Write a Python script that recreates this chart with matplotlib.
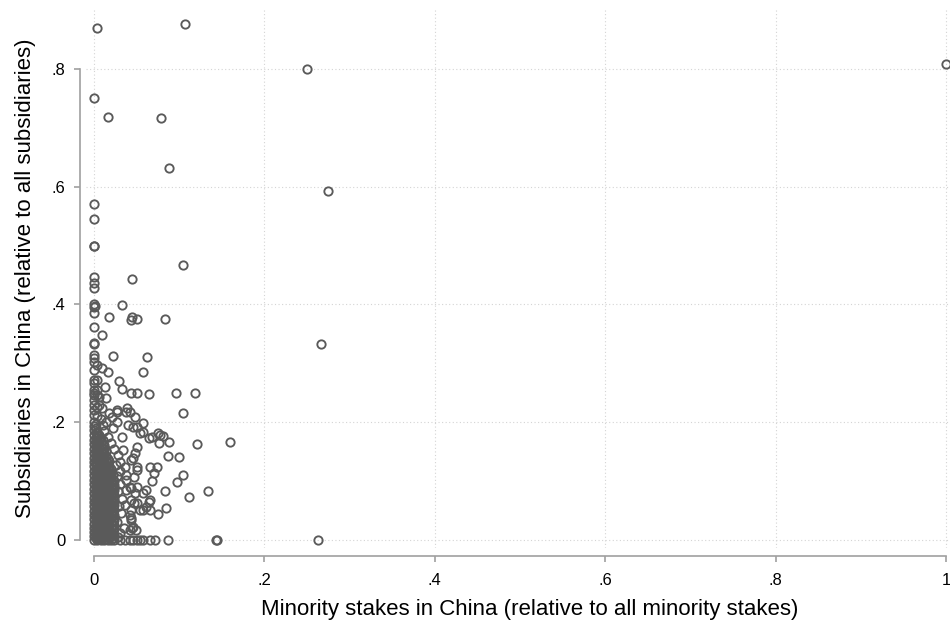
import matplotlib
matplotlib.use("Agg")
import matplotlib.pyplot as plt

plt.rcParams['font.family'] = ['Liberation Sans', 'DejaVu Sans']

# firm-level shares: minority stakes in China vs subsidiaries in China
# scattered observations
stake_x = [1.0, .25, .2746, .266, .263, .0035, .107, 0, .0164, .0786, .088, 0, 0, 0, .0005,
           .1045, .0446, 0, 0, 0, 0, .001, 0, .0325, .0176, .045, .051, .043, .0833, 0, 0,
           .0098, 0, 0, 0, 0, 0, .004, .0227, .0626, 0, .0098, .0164, .058, 0, 0, .004,
           .029, .0125, .033, 0, .004, 0, .004, 0, .043, .05, .0645, .096, .1185, .006,
           .0137, 0, 0, .006, 0, .0098, 0, .004, .027, .039, .0176, .0266, .038, .042, .104,
           .048, .021, .027, .058, .046, .040, .05, .054, .058, .068, .0755, .081, .0775,
           .088, .0767, .065, .1205, .160, .087, .1, .05, .048, .046, .0325, .0344, .0305,
           .0364, .0657, .0745, .0708, .105, .097, .0677, .134, .0833, .061, .111, .064,
           .0657, .061, .0657, .058, .0845, .0755, .048, .044, .044, .05, .054, .044, .046,
           .042, .045, .044, .042, .042, .038, .051, .057, .047, .043, .051, .05, .047, .043,
           .049,
           .031, .036, .042, .046, .05, .054, .058, .0657, .0716, .087, .143, .1445,
           .028, .03, .027, .032, .029, .033, .028, .031, .027, .03, .026, .028, .024, .02,
           .016, .012, .035, .036, .038, .037, .022, .014, .008, .004, .01]
subs_y = [.808, .8, .593, .333, 0, .87, .876, .751, .718, .717, .632, .571, .545, .5, .4995,
          .467, .443, .447, .437, .428, .4, .398, .396, .399, .379, .379, .375, .374, .375, .385, .362,
          .348, .334, .333, .314, .309, .303, .297, .3125, .311, .289, .2916, .286, .286, .272, .267, .272,
          .27, .26, .257, .255, .255, .246, .246, .249, .249, .249, .248, .249, .249, .2435,
          .241, .238, .229, .229, .221, .224, .212, .226, .218, .224, .215, .221, .218, .218, .215,
          .209, .209, .201, .199, .192, .195, .192, .181, .184, .175, .181, .177, .178,
          .166, .165, .173, .1625, .166, .1427, .1415, .158, .147, .139, .1755, .153, .133,
          .1245, .1245, .1245, .113, .110, .099, .1, .083, .0837, .085, .0725, .065,
          .068, .0566, .051, .051, .055, .044, .079, .088, .068, .062, .051, .037, .0226,
          .017, .02, .034, .042, .0905, .102, .0905, .079, .1075, .136, .1245, .119, .0623, .051,
          .017,
          0, 0, 0, 0, 0, 0, 0, 0, 0, 0, 0, 0,
          .005, .012, .03, .045, .058, .07, .083, .095, .108, .118, .128, .145, .155, .165,
          .175, .185, .02, .06, .085, .11, .19, .2, .205, .21, .195]

# dense core of small firms near the origin, one list per stake share
core_x = [0, .002, .004, .006, .008, .010, .012, .014, .016, .018, .020, .022, .024]
core_y = [
    [0, .006, .013, .021, .028, .035, .043, .05, .058, .065, .072, .08, .087, .095, .102, .11,
     .118, .125, .133, .14, .148, .155, .163, .17, .178, .186, .193, .2],
    [.003, .009, .017, .024, .032, .039, .047, .054, .061, .069, .076, .084, .091, .098, .106,
     .114, .121, .129, .137, .144, .151, .159, .167, .174, .182, .19, .197],
    [0, .004, .011, .019, .026, .033, .041, .048, .056, .063, .071, .078, .086, .093, .1, .108,
     .116, .123, .131, .138, .146, .154, .161, .168, .176, .183],
    [.002, .008, .015, .023, .03, .037, .045, .052, .059, .067, .075, .082, .089, .097, .104,
     .112, .119, .127, .134, .142, .15, .157, .165, .172, .179],
    [0, .007, .015, .022, .03, .037, .045, .052, .06, .067, .074, .082, .09, .097, .105, .112,
     .12, .127, .135, .142, .15, .158, .166, .174],
    [.003, .01, .018, .026, .033, .041, .048, .056, .063, .07, .078, .086, .093, .101, .108,
     .116, .124, .131, .139, .146, .154, .162, .169],
    [0, .005, .012, .02, .027, .035, .042, .05, .057, .064, .071, .079, .087, .094, .102, .109,
     .117, .124, .132, .14, .147, .155, .162],
    [.002, .009, .016, .024, .031, .038, .046, .053, .061, .068, .075, .083, .091, .098, .105,
     .113, .12, .128, .136, .143, .151],
    [0, .008, .016, .023, .031, .039, .046, .054, .062, .069, .077, .084, .092, .1, .107, .115,
     .123, .13, .138],
    [.004, .012, .019, .027, .035, .042, .05, .058, .065, .073, .081, .088, .096, .103, .111,
     .119, .126, .134],
    [0, .006, .014, .021, .029, .037, .044, .052, .06, .067, .075, .083, .09, .098, .106, .113,
     .12],
    [.003, .011, .018, .025, .033, .04, .048, .056, .064, .071, .079, .087, .095, .104, .111],
    [0, .009, .018, .026, .034, .043, .051, .06, .068, .077, .085, .094, .1],
]

xticks = [0, .2, .4, .6, .8, 1]
xtick_labels = ['0', '.2', '.4', '.6', '.8', '1']
yticks = [0, .2, .4, .6, .8]
ytick_labels = ['0', '.2', '.4', '.6', '.8']

dot_col = '#5a5a5a'
axis_col = '#a0a0a0'
dpi = 100

fig = plt.figure(figsize=(9.5, 6.22), dpi=dpi)
# axes box in pixels: left 86, right 950, top 8, bottom 548
ax = fig.add_axes([86 / 950, (622 - 548) / 622, (950 - 86) / 950, (548 - 8) / 622])

all_x = list(stake_x)
all_y = list(subs_y)
for cx, ys in zip(core_x, core_y):
    all_x += [cx] * len(ys)
    all_y += ys

ax.plot(all_x, all_y, linestyle='none', marker='o', markersize=6.0,
        markerfacecolor='none', markeredgecolor=dot_col, markeredgewidth=1.35)

ax.set_xlim(-0.0094, 1.0047)
ax.set_ylim(-0.0136, 0.9036)

ax.set_xticks(xticks)
ax.set_xticklabels(xtick_labels)
ax.set_yticks(yticks)
ax.set_yticklabels(ytick_labels)

ax.grid(True, color='#d4d4d4', linestyle=(0, (1, 2.2)), linewidth=0.8)
ax.set_axisbelow(True)

for side in ('top', 'right'):
    ax.spines[side].set_visible(False)
ax.spines['left'].set_position(('outward', 6 * 72 / dpi))
ax.spines['bottom'].set_position(('outward', 8 * 72 / dpi))
ax.spines['left'].set_bounds(0, .8)
ax.spines['bottom'].set_bounds(0, 1)
for side in ('left', 'bottom'):
    ax.spines[side].set_color(axis_col)
    ax.spines[side].set_linewidth(1.2)

ax.tick_params(axis='both', colors=axis_col, labelcolor='black', labelsize=12,
               length=4.5, width=1.2)
ax.tick_params(axis='y', pad=6)
ax.tick_params(axis='x', pad=8)

ax.set_xlabel('Minority stakes in China (relative to all minority stakes)', fontsize=16,
              labelpad=5)
ax.xaxis.set_label_coords(0.514, -0.095)
ax.set_ylabel('Subsidiaries in China (relative to all subsidiaries)', fontsize=16,
              labelpad=11)

fig.savefig('out.png', dpi=dpi, facecolor='white')
